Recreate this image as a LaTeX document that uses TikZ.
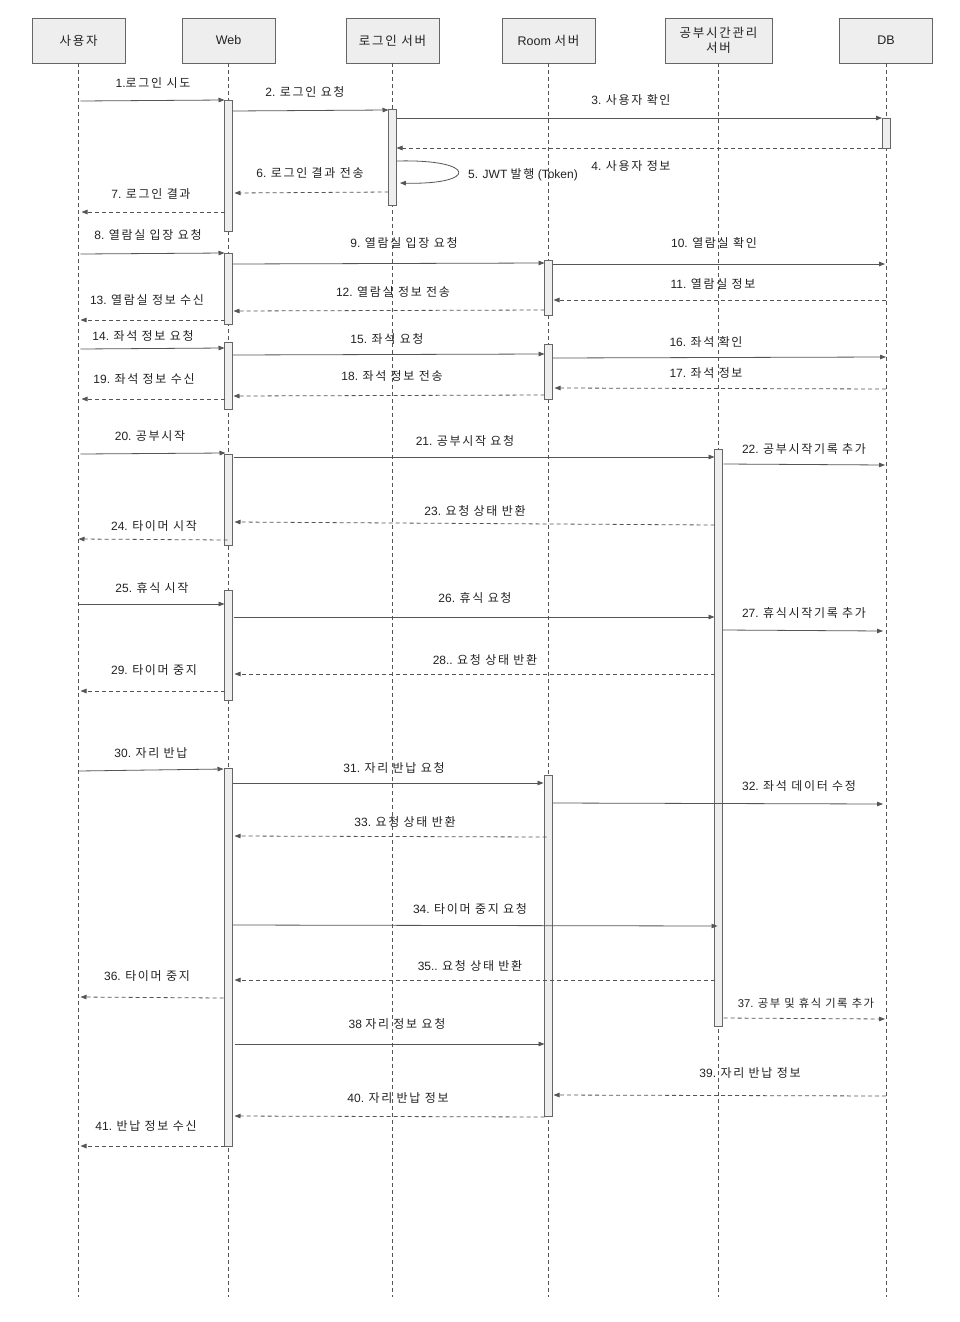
\documentclass[tikz,border=0pt]{standalone}
\usepackage{fontspec}
\setmainfont{Liberation Sans}
\newfontfamily\krfont{Noto Sans CJK KR}[LetterSpace=14]
\newcommand\hk[1]{{\krfont #1}}
\usetikzlibrary{calc,arrows.meta}
\definecolor{boxline}{HTML}{666666}
\definecolor{boxfill}{HTML}{EEEEEE}
\definecolor{arrcol}{HTML}{555555}
\definecolor{txt}{HTML}{222222}
\newcommand\mymsg[8]{%
  \coordinate (#2a) at ($(#3.center |- 0,#5)+(#4,0)$);
  \coordinate (#2b) at ($(#6.center |- 0,#8)+(#7,0)$);
  \draw[#1] (#2a) -- (#2b);}
\newcommand\actbar[4]{%
  \node[barsty, minimum height={(#4-#3)*1pt}] (#1) at ($(#2.center |- 0,#3)$) {};}
\begin{document}
\begin{tikzpicture}[x=1pt,y=-1pt,
  head/.style={draw=boxline, fill=boxfill, line width=0.8pt, minimum width=93pt, minimum height=45pt, inner sep=2pt, font=\fontsize{12.5}{15}\selectfont, text=txt, align=center},
  life/.style={draw=arrcol, dash pattern=on 4pt off 3pt, line width=0.6pt},
  barsty/.style={draw=boxline, fill=boxfill, line width=0.8pt, minimum width=8pt, inner sep=0pt, anchor=north},
  call/.style={draw=arrcol, line width=0.8pt, -{Triangle[length=6pt,width=4.5pt]}},
  ret/.style={call, dash pattern=on 4pt off 3pt},
  lbl/.style={font=\fontsize{12}{14}\selectfont, text=txt, inner sep=1pt},
  lbls/.style={font=\fontsize{11.3}{13}\selectfont, text=txt, inner sep=1pt}]
\useasboundingbox (0,0) rectangle (959,1322);
\fill[white] (0,0) rectangle (959,1322);
% headers
\node[head] (u) at (78.5,40.5) {\hk{사용자}};
\node[head] (w) at (228.5,40.5) {Web};
\node[head] (ls) at (392.5,40.5) {\hk{로그인 서버}};
\node[head] (rs) at (548.5,40.5) {Room \hk{서버}};
\node[head, minimum width=107pt] (ss) at (718.5,40.5) {\hk{공부시간관리}\\\hk{서버}};
\node[head] (db) at (886,40.5) {DB};
% lifelines
\foreach \n in {u,w,ls,rs,ss,db}{\draw[life] (\n.south) -- (\n.south |- 0,1297);}
% activation bars
\actbar{wb1}{w}{100}{231}
\actbar{lb1}{ls}{109}{205}
\actbar{dbb1}{db}{118}{148}
\actbar{wb2}{w}{253}{324}
\actbar{rb1}{rs}{260}{315}
\actbar{wb3}{w}{342}{409}
\actbar{rb2}{rs}{344}{399}
\actbar{wb4}{w}{454}{545}
\actbar{sb1}{ss}{449}{1026}
\actbar{wb5}{w}{590}{700}
\actbar{wb6}{w}{768}{1146}
\actbar{rb3}{rs}{775}{1116}
% messages
\mymsg{call}{m1}{u}{2}{101}{w}{-4}{100}
\mymsg{call}{m2}{w}{4}{111}{ls}{-4}{110}
\mymsg{call}{m3}{ls}{4}{118}{db}{-4}{118}
\mymsg{ret}{m4}{db}{-4}{148}{ls}{4}{148}
\coordinate (m5a) at ($(lb1.east |- 0,161)$);
\coordinate (m5b) at ($(lb1.east |- 0,183)+(3,0)$);
\draw[call] (m5a) .. controls (478,159) and (478,185) .. (m5b);
\mymsg{ret}{m6}{ls}{-4}{192}{w}{6}{193}
\mymsg{ret}{m7}{w}{-4}{212}{u}{3}{212}
\mymsg{call}{m8}{u}{2}{254}{w}{-4}{253}
\mymsg{call}{m9}{w}{4}{264}{rs}{-4}{263}
\mymsg{call}{m10}{rs}{4}{264}{db}{-1}{264}
\mymsg{ret}{m11}{db}{0}{300}{rs}{5}{300}
\mymsg{ret}{m12}{rs}{-4}{310}{w}{5}{311}
\mymsg{ret}{m13}{w}{-4}{320}{u}{2}{320}
\mymsg{call}{m14}{u}{2}{349}{w}{-4}{348}
\mymsg{call}{m15}{w}{4}{355}{rs}{-4}{354}
\mymsg{call}{m16}{rs}{4}{358}{db}{0}{357}
\mymsg{ret}{m17}{db}{0}{389}{rs}{6}{388}
\mymsg{ret}{m18}{rs}{-4}{395}{w}{5}{396}
\mymsg{ret}{m19}{w}{-4}{399}{u}{3}{399}
\mymsg{call}{m20}{u}{2}{454}{w}{-3}{453}
\mymsg{call}{m21}{w}{5}{457}{ss}{-4}{457}
\mymsg{call}{m22}{ss}{5}{464}{db}{-1}{465}
\mymsg{ret}{m23}{ss}{-4}{525}{w}{6}{522}
\mymsg{ret}{m24}{w}{-1}{540}{u}{0}{539}
\mymsg{call}{m25}{u}{0}{604}{w}{-4}{604}
\mymsg{call}{m26}{w}{5}{617}{ss}{-4}{617}
\mymsg{call}{m27}{ss}{4}{630}{db}{-3}{631}
\mymsg{ret}{m28}{ss}{-4}{674}{w}{6}{674}
\mymsg{ret}{m29}{w}{-4}{691}{u}{2}{691}
\mymsg{call}{m30}{u}{0}{771}{w}{-5}{769}
\mymsg{call}{m31}{w}{4}{783}{rs}{-5}{783}
\mymsg{call}{m32}{rs}{4}{803}{db}{-3}{804}
\mymsg{ret}{m33}{rs}{-2}{837}{w}{6}{836}
\mymsg{call}{m34}{w}{4}{925}{ss}{-1}{926}
\mymsg{ret}{m35}{ss}{-4}{980}{w}{6}{980}
\mymsg{ret}{m36}{w}{-5}{998}{u}{2}{997}
\mymsg{ret}{m37}{ss}{5}{1018}{db}{-1}{1019}
\mymsg{call}{m38}{w}{6}{1044}{rs}{-4}{1044}
\mymsg{ret}{m39}{db}{0}{1096}{rs}{5}{1095}
\mymsg{ret}{m40}{rs}{-4}{1117}{w}{6}{1116}
\mymsg{ret}{m41}{w}{-4}{1146}{u}{2}{1146}
% labels
\node[lbl] (l1) at (153,83) {1.\hk{로그인 시도}};
\node[lbl] (l2) at (305,92) {2. \hk{로그인 요청}};
\node[lbl] (l3) at (631,100) {3. \hk{사용자 확인}};
\node[lbl] (l4) at (631,166) {4. \hk{사용자 정보}};
\node[lbl] (l5) at (523,175) {5. JWT \hk{발행} (Token)};
\node[lbl] (l6) at (310,173) {6. \hk{로그인 결과 전송}};
\node[lbl] (l7) at (151,194) {7. \hk{로그인 결과}};
\node[lbl] (l8) at (148,235) {8. \hk{열람실 입장 요청}};
\node[lbl] (l9) at (404,243) {9. \hk{열람실 입장 요청}};
\node[lbl] (l10) at (714,243) {10. \hk{열람실 확인}};
\node[lbl] (l11) at (713,284) {11. \hk{열람실 정보}};
\node[lbl] (l12) at (393,292) {12. \hk{열람실 정보 전송}};
\node[lbl] (l13) at (147,300) {13. \hk{열람실 정보 수신}};
\node[lbl] (l14) at (143,336) {14. \hk{좌석 정보 요청}};
\node[lbl] (l15) at (387,339) {15. \hk{좌석 요청}};
\node[lbl] (l16) at (706,342) {16. \hk{좌석 확인}};
\node[lbl] (l17) at (706,373) {17. \hk{좌석 정보}};
\node[lbl] (l18) at (392,376) {18. \hk{좌석 정보 전송}};
\node[lbl] (l19) at (144,379) {19. \hk{좌석 정보 수신}};
\node[lbl] (l20) at (150,436) {20. \hk{공부시작}};
\node[lbl] (l21) at (465,441) {21. \hk{공부시작 요청}};
\node[lbl] (l22) at (804,449) {22. \hk{공부시작기록 추가}};
\node[lbl] (l23) at (475,511) {23. \hk{요청 상태 반환}};
\node[lbl] (l24) at (154,526) {24. \hk{타이머 시작}};
\node[lbl] (l25) at (152,588) {25. \hk{휴식 시작}};
\node[lbl] (l26) at (475,598) {26. \hk{휴식 요청}};
\node[lbl] (l27) at (804,613) {27. \hk{휴식시작기록 추가}};
\node[lbl] (l28) at (485,660) {28.. \hk{요청 상태 반환}};
\node[lbl] (l29) at (154,670) {29. \hk{타이머 중지}};
\node[lbl] (l30) at (151,753) {30. \hk{자리 반납}};
\node[lbl] (l31) at (394,768) {31. \hk{자리 반납 요청}};
\node[lbl] (l32) at (799,786) {32. \hk{좌석 데이터 수정}};
\node[lbl] (l33) at (405,822) {33. \hk{요청 상태 반환}};
\node[lbl] (l34) at (470,909) {34. \hk{타이머 중지 요청}};
\node[lbl] (l35) at (470,966) {35.. \hk{요청 상태 반환}};
\node[lbl] (l36) at (147,976) {36. \hk{타이머 중지}};
\node[lbls] (l37) at (806,1003) {37. \hk{공부 및 휴식 기록 추가}};
\node[lbl] (l38) at (397,1024) {38 \hk{자리 정보 요청}};
\node[lbl] (l39) at (750,1073) {39. \hk{자리 반납 정보}};
\node[lbl] (l40) at (398,1098) {40. \hk{자리 반납 정보}};
\node[lbl] (l41) at (146,1126) {41. \hk{반납 정보 수신}};
\end{tikzpicture}
\end{document}
